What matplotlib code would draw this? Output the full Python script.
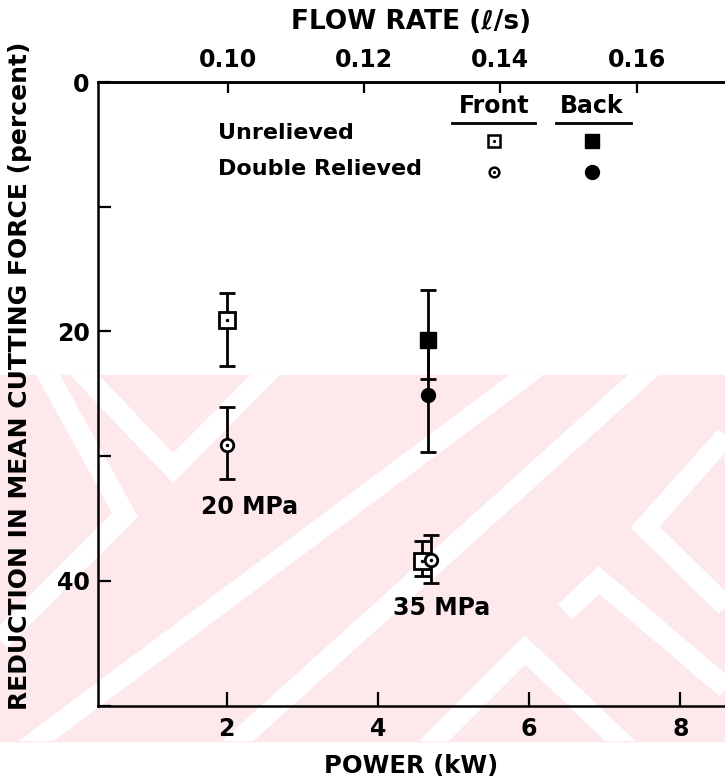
import matplotlib
matplotlib.use("Agg")
import matplotlib.pyplot as plt
from matplotlib.patches import Rectangle
from matplotlib.lines import Line2D

# power (kW) and reduction in mean cutting force (percent)
front_unrel_x = [2.0, 4.58]
front_unrel_y = [19.1, 38.4]
front_unrel_lo = [16.9, 36.8]
front_unrel_hi = [22.8, 39.6]

front_dbl_x = [2.0, 4.70]
front_dbl_y = [29.1, 38.3]
front_dbl_lo = [26.1, 36.3]
front_dbl_hi = [31.8, 40.2]

back_unrel_x = [4.66]
back_unrel_y = [20.7]
back_unrel_lo = [16.7]
back_unrel_hi = [23.8]

back_dbl_x = [4.66]
back_dbl_y = [25.1]
back_dbl_lo = [20.8]
back_dbl_hi = [29.7]

power_ticks = [2, 4, 6, 8]
flow_ticks = [0.10, 0.12, 0.14, 0.16]
y_ticks = [0, 10, 20, 30, 40, 50]
y_labels = ["0", "", "20", "", "40", ""]

W, H = 725, 781
FONT = "DejaVu Sans"
plt.rcParams["font.family"] = [FONT]
plt.rcParams["font.weight"] = "bold"
plt.rcParams["axes.labelweight"] = "bold"

fig = plt.figure(figsize=(W / 100, H / 100), dpi=100)

# faint pink watermark band behind the plot (pixel coords, top-left origin)
band = Rectangle((0, 1 - 741 / H), 1, (741 - 375) / H,
                 transform=fig.transFigure, color="#fde8ec", zorder=-2)
fig.patches.append(band)
gaps = [
    [(0, 768), (560, 350)],
    [(200, 775), (660, 360)],
    [(70, 360), (173, 468), (280, 360)],
    [(40, 360), (125, 515), (0, 640)],
    [(415, 760), (525, 650), (640, 760)],
    [(565, 612), (599, 580), (740, 700)],
    [(745, 415), (645, 527), (745, 625)],
]
for pts in gaps:
    ln = Line2D([x / W for x, y in pts], [1 - y / H for x, y in pts],
                transform=fig.transFigure, color="white", linewidth=15,
                solid_joinstyle="miter", solid_capstyle="butt", zorder=-1)
    ln.set_clip_path(band)
    fig.add_artist(ln)

ax = fig.add_axes([98 / W, 1 - 705.5 / H, (W - 98) / W, (705.5 - 82) / H])
ax.set_zorder(1)
ax.patch.set_alpha(0)
ax.set_xlim(0.30, 8.59)
ax.set_ylim(50, 0)
for s in ["left", "bottom", "top"]:
    ax.spines[s].set_linewidth(1.8)
ax.spines["right"].set_visible(False)

ax.set_xticks(power_ticks)
ax.set_xticklabels([str(t) for t in power_ticks])
ax.set_yticks(y_ticks)
ax.set_yticklabels(y_labels)
ax.tick_params(axis="x", direction="in", length=10, width=1.6, labelsize=17, pad=8)
ax.tick_params(axis="y", direction="in", length=9, width=1.6, labelsize=17, pad=6)

ax.set_xlabel("POWER (kW)", fontsize=17.5, labelpad=10)
ax.set_ylabel("REDUCTION IN MEAN CUTTING FORCE (percent)", fontsize=18)
ax.yaxis.set_label_coords(-0.105, 0.528)


def to_flow(p):
    return 0.10 + (p - 2.02) * 0.02 / 1.80


def to_power(f):
    return 2.02 + (f - 0.10) * 1.80 / 0.02


top = ax.secondary_xaxis("top", functions=(to_flow, to_power))
top.set_xticks(flow_ticks)
top.set_xticklabels(["%.2f" % f for f in flow_ticks])
top.tick_params(direction="in", length=8, width=1.6, labelsize=17, pad=7)
top.spines["top"].set_linewidth(1.8)
top.set_xlabel("FLOW RATE (\u2113/s)", fontsize=19, labelpad=14)


def bars(x, y, lo, hi, **kw):
    err = [[v - l for v, l in zip(y, lo)], [h - v for v, h in zip(y, hi)]]
    ax.errorbar(x, y, yerr=err, fmt="none", ecolor="black", elinewidth=2.0,
                capsize=6, capthick=2.0, zorder=2)
    ax.plot(x, y, linestyle="none", color="black", zorder=3, **kw)


bars(front_unrel_x, front_unrel_y, front_unrel_lo, front_unrel_hi,
     marker="s", markersize=11, markerfacecolor="white", markeredgewidth=2.0)
ax.plot(front_unrel_x, front_unrel_y, "k.", markersize=3, zorder=4)
bars(front_dbl_x, front_dbl_y, front_dbl_lo, front_dbl_hi,
     marker="o", markersize=9, markerfacecolor="white", markeredgewidth=2.0)
ax.plot(front_dbl_x, front_dbl_y, "k.", markersize=3, zorder=4)
bars(back_unrel_x, back_unrel_y, back_unrel_lo, back_unrel_hi,
     marker="s", markersize=12)
bars(back_dbl_x, back_dbl_y, back_dbl_lo, back_dbl_hi,
     marker="o", markersize=10)

# key in the upper part of the plot
ax.text(5.54, 1.9, "Front", ha="center", va="center", fontsize=17)
ax.text(6.83, 1.9, "Back", ha="center", va="center", fontsize=17)
ax.plot([4.98, 6.08], [3.3, 3.3], color="black", linewidth=2.0)
ax.plot([6.36, 7.35], [3.3, 3.3], color="black", linewidth=2.0)
ax.text(1.88, 4.1, "Unrelieved", ha="left", va="center", fontsize=16)
ax.text(1.88, 7.0, "Double Relieved", ha="left", va="center", fontsize=16)
ax.plot([5.54], [4.7], marker="s", markersize=8.5, markerfacecolor="white",
        markeredgecolor="black", markeredgewidth=1.8, linestyle="none")
ax.plot([5.54], [4.7], "k.", markersize=2.5)
ax.plot([6.83], [4.7], marker="s", markersize=9.5, color="black", linestyle="none")
ax.plot([5.54], [7.2], marker="o", markersize=7, markerfacecolor="white",
        markeredgecolor="black", markeredgewidth=1.8, linestyle="none")
ax.plot([5.54], [7.2], "k.", markersize=2.5)
ax.plot([6.83], [7.2], marker="o", markersize=10, color="black", linestyle="none")

ax.text(2.30, 34.1, "20 MPa", ha="center", va="center", fontsize=17)
ax.text(4.84, 42.2, "35 MPa", ha="center", va="center", fontsize=17)

fig.savefig("out.png", dpi=100)
